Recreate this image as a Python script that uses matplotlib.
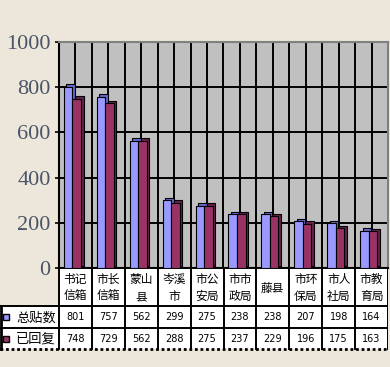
import matplotlib
matplotlib.use("Agg")
import matplotlib.pyplot as plt
import numpy as np
from matplotlib.patches import Rectangle
from matplotlib.transforms import ScaledTranslation

categories = ['书记\n信箱', '市长\n信箱', '蒙山\n县', '岑溪\n市', '市公\n安局',
              '市市\n政局', '藤县', '市环\n保局', '市人\n社局', '市教\n育局']
total_posts = [801, 757, 562, 299, 275, 238, 238, 207, 198, 164]
replied = [748, 729, 562, 288, 275, 237, 229, 196, 175, 163]
series_names = ['总贴数', '已回复']
yticks = [0, 200, 400, 600, 800, 1000]

CJK = ['Noto Sans CJK SC', 'DejaVu Sans']
SERIF = ['Liberation Serif', 'DejaVu Serif']
BG = '#ECE7DA'
C1, C1D = '#9999FF', '#6666CC'
C2, C2D = '#993366', '#66224A'

W, H = 390, 367
fig = plt.figure(figsize=(W / 100, H / 100), dpi=100, facecolor=BG)

# pixel geometry
ax_l, ax_r, ax_t, ax_b = 59, 388, 42, 268
ax = fig.add_axes([ax_l / W, 1 - ax_b / H, (ax_r - ax_l) / W, (ax_b - ax_t) / H])
ax.set_facecolor('#C0C0C0')
n = len(categories)
x = np.arange(n)
ax.set_xlim(-0.5, n - 0.5)
ax.set_ylim(0, 1000)

# grid
for gx in np.arange(-0.5, n, 0.5):
    ax.axvline(gx, color='black', lw=1.4, zorder=1)
for gy in yticks[1:-1]:
    ax.axhline(gy, color='black', lw=1.4, zorder=1)

bw = 0.26
off1, off2 = -0.22, 0.04
shift = ax.transData + ScaledTranslation(0.025, 0.025, fig.dpi_scale_trans)
ax.bar(x + off1, total_posts, width=bw, color=C1D, edgecolor='black', lw=0.8,
       zorder=2, transform=shift)
ax.bar(x + off2, replied, width=bw, color=C2D, edgecolor='black', lw=0.8,
       zorder=2.1, transform=shift)
ax.bar(x + off1, total_posts, width=bw, color=C1, edgecolor='black', lw=0.8, zorder=3)
ax.bar(x + off2, replied, width=bw, color=C2, edgecolor='black', lw=0.8, zorder=3.1)

for s in ['top', 'right']:
    ax.spines[s].set_color('#808080')
    ax.spines[s].set_linewidth(1.5)
ax.spines['left'].set_color('black')
ax.spines['left'].set_linewidth(1.5)
ax.spines['bottom'].set_color('black')
ax.spines['bottom'].set_linewidth(1.5)

ax.set_yticks(yticks)
ax.set_yticklabels([str(v) for v in yticks])
for lbl in ax.get_yticklabels():
    lbl.set_fontfamily(SERIF)
    lbl.set_fontsize(16)
    lbl.set_color('#4a5568')
ax.tick_params(axis='y', length=3, width=1.2, pad=3, color='black')
ax.tick_params(axis='x', which='both', length=0, labelbottom=False)

# table
tb_t, r1, r2, tb_b = 268, 306, 328, 349
pxu = (ax_r - ax_l) / n
tax = fig.add_axes([0, 1 - 352 / H, ax_r / W, (352 - tb_t) / H])
tax.set_xlim(-0.5 - ax_l / pxu, n - 0.5)
tax.set_ylim(352, tb_t)
tax.axis('off')
x0 = -0.5 - ax_l / pxu
tax.add_patch(Rectangle((-0.5, tb_t), n, r1 - tb_t, facecolor='white', edgecolor='none', zorder=0))
tax.add_patch(Rectangle((x0, r1), n + ax_l / pxu, tb_b - r1, facecolor='white', edgecolor='none', zorder=0))
for b in np.arange(-0.5, n, 1.0):
    tax.plot([b, b], [tb_t, tb_b], color='black', lw=1.4, zorder=2)
tax.plot([x0 + 0.03, x0 + 0.03], [r1, tb_b], color='black', lw=2, zorder=2)
tax.plot([-0.5, n - 0.5], [tb_t, tb_t], color='black', lw=1.4, zorder=2)
for yy in [r1, r2]:
    tax.plot([x0, n - 0.5], [yy, yy], color='black', lw=1.4, zorder=2)
tax.plot([x0, n - 0.5], [tb_b, tb_b], color='black', lw=2, ls=(0, (1, 1)), zorder=2)

for i, c in enumerate(categories):
    tax.text(i, (tb_t + r1) / 2 + 1, c, ha='center', va='center', fontsize=8.5,
             family=CJK, linespacing=1.45)
    tax.text(i, (r1 + r2) / 2, str(total_posts[i]), ha='center', va='center',
             fontsize=7, family='DejaVu Sans')
    tax.text(i, (r2 + tb_b) / 2, str(replied[i]), ha='center', va='center',
             fontsize=7, family='DejaVu Sans')

sq = 6 / pxu
for (yy0, yy1), name, col in [((r1, r2), series_names[0], C1), ((r2, tb_b), series_names[1], C2)]:
    cy = (yy0 + yy1) / 2
    tax.add_patch(Rectangle((x0 + 3 / pxu, cy - 3), sq, 6, facecolor=col,
                            edgecolor='black', lw=1, zorder=3))
    tax.text(x0 + 16 / pxu, cy + 1, name, ha='left', va='center', fontsize=9.5, family=CJK)

fig.savefig('out.png', dpi=100, facecolor=BG)
